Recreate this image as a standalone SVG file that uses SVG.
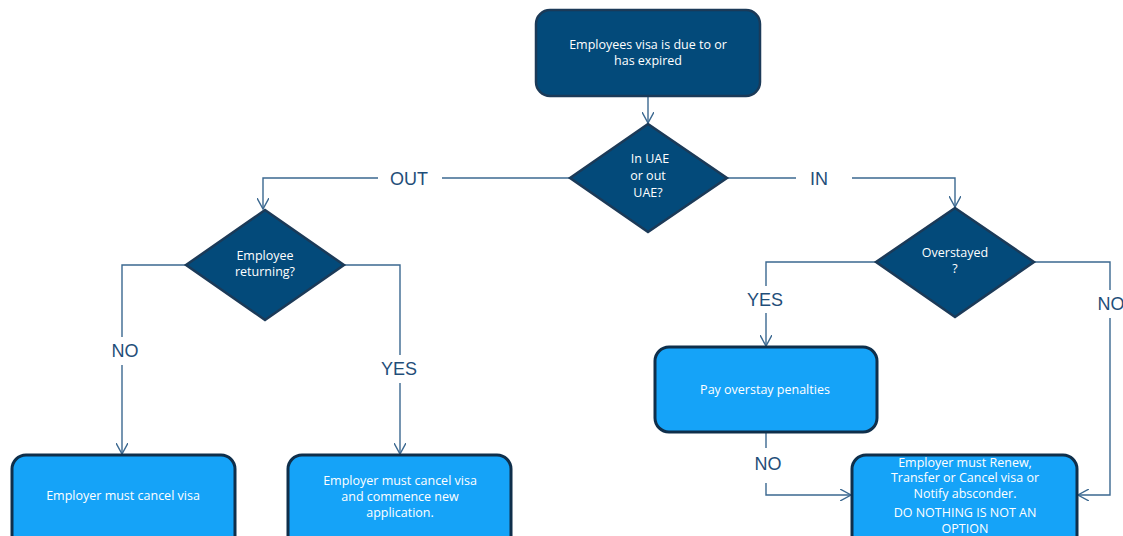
<svg xmlns="http://www.w3.org/2000/svg" width="1123" height="536" viewBox="0 0 1123 536">
<defs>
<marker id="arr" viewBox="0 0 12 12" refX="11" refY="6" markerWidth="12" markerHeight="12" markerUnits="userSpaceOnUse" orient="auto">
<path d="M0,0 L11,6 L0,12" fill="none" stroke="#3b6890" stroke-width="1.4"/>
</marker>
<style>
.dk{fill:#034a7a;stroke:#1b3a58;stroke-width:2.5}
.lt{fill:#15a3f8;stroke:#0f2f4b;stroke-width:3}
.t{font-family:"Open Sans","DejaVu Sans",sans-serif;font-size:12.5px;fill:#ffffff;text-anchor:middle}
.c{fill:none;stroke:#3b6890;stroke-width:1.4}
.lb{font-family:"Liberation Sans",Arial,sans-serif;font-size:18px;fill:#1f4e79;text-anchor:middle}
</style>
</defs>
<rect width="1123" height="536" fill="#ffffff"/>
<g id="connectors">
<path class="c" d="M648,96 L648,123" marker-end="url(#arr)"/>
<path class="c" d="M570,178 L442,178"/>
<path class="c" d="M378,178 L263,178 L263,209" marker-end="url(#arr)"/>
<path class="c" d="M727,178 L796,178"/>
<path class="c" d="M852,178 L955,178 L955,207" marker-end="url(#arr)"/>
<path class="c" d="M186,265 L122,265 L122,337"/>
<path class="c" d="M122,365 L122,454" marker-end="url(#arr)"/>
<path class="c" d="M344,265 L400,265 L400,355"/>
<path class="c" d="M400,383 L400,454" marker-end="url(#arr)"/>
<path class="c" d="M876,262 L766,262 L766,286"/>
<path class="c" d="M766,313 L766,346" marker-end="url(#arr)"/>
<path class="c" d="M1034,262 L1110,262 L1110,290"/>
<path class="c" d="M1110,318 L1110,495 L1078,495" marker-end="url(#arr)"/>
<path class="c" d="M766,432 L766,448"/>
<path class="c" d="M766,483 L766,495 L851,495" marker-end="url(#arr)"/>
<text class="lb" x="409" y="185">OUT</text>
<text class="lb" x="819" y="185">IN</text>
<text class="lb" x="125" y="357">NO</text>
<text class="lb" x="399" y="375">YES</text>
<text class="lb" x="765" y="306">YES</text>
<text class="lb" x="1111" y="310">NO</text>
<text class="lb" x="768" y="470">NO</text>
</g>
<g id="start">
<rect class="dk" x="536" y="10" width="224" height="86" rx="14"/>
<text class="t" x="648" y="49">Employees visa is due  to or</text>
<text class="t" x="648" y="65">has expired</text>
</g>
<g id="inout">
<polygon class="dk" points="648,124 727,178 648,232 570,178"/>
<text class="t" x="650" y="163">In UAE</text>
<text class="t" x="648" y="180">or out</text>
<text class="t" x="648" y="197">UAE?</text>
</g>
<g id="returning">
<polygon class="dk" points="265,210 344,265 265,320 186,265"/>
<text class="t" x="265" y="260">Employee</text>
<text class="t" x="265" y="276">returning?</text>
</g>
<g id="overstayed">
<polygon class="dk" points="955,208 1034,262 955,317 876,262"/>
<text class="t" x="955" y="257">Overstayed</text>
<text class="t" x="955" y="273">?</text>
</g>
<g id="pay">
<rect class="lt" x="655" y="347" width="222" height="85" rx="14"/>
<text class="t" x="765" y="394">Pay overstay  penalties</text>
</g>
<g id="cancel">
<rect class="lt" x="12" y="455" width="223" height="95" rx="14"/>
<text class="t" x="123" y="500">Employer must cancel  visa</text>
</g>
<g id="cancelnew">
<rect class="lt" x="288" y="455" width="223" height="95" rx="14"/>
<text class="t" x="400" y="485">Employer must cancel  visa</text>
<text class="t" x="400" y="501">and commence  new</text>
<text class="t" x="400" y="517">application.</text>
</g>
<g id="renew">
<rect class="lt" x="852" y="455" width="225" height="95" rx="14"/>
<text class="t" x="965" y="467">Employer must Renew,</text>
<text class="t" x="965" y="482">Transfer or  Cancel  visa or</text>
<text class="t" x="965" y="498">Notify absconder.</text>
<text class="t" x="965" y="517">DO NOTHING  IS NOT  AN</text>
<text class="t" x="965" y="533">OPTION</text>
</g>
</svg>
